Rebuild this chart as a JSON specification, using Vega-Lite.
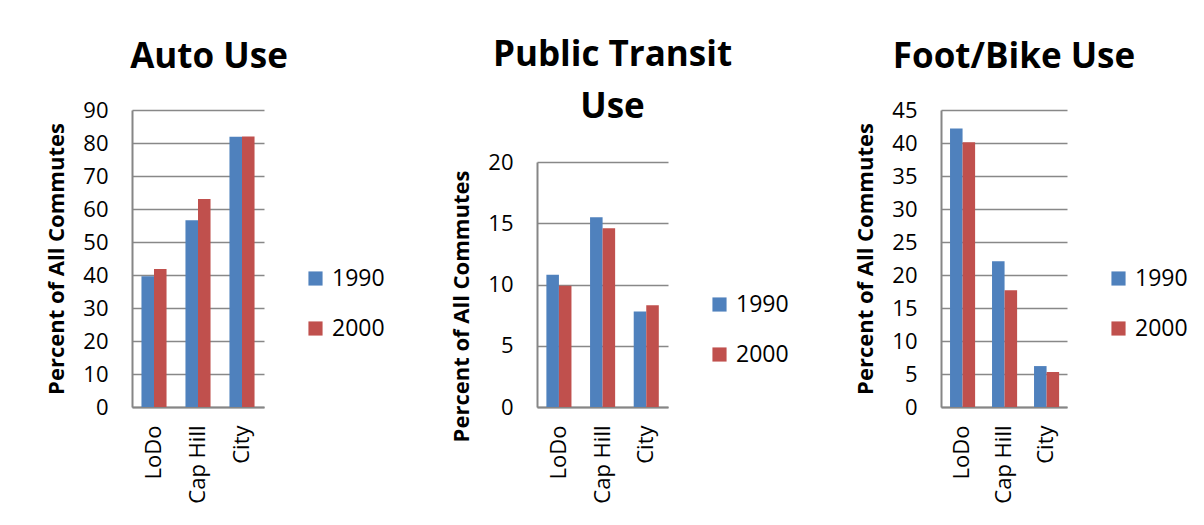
{
  "$schema": "https://vega.github.io/schema/vega-lite/v6.json",
  "background": "white",
  "padding": {"left": 45, "top": 38, "right": 0, "bottom": 0},
  "spacing": 273,
  "bounds": "flush",
  "config": {
    "font": "Open Sans",
    "view": {"stroke": null},
    "axis": {
      "labelFont": "Open Sans", "labelColor": "black", "labelFontSize": 22,
      "titleFont": "Open Sans", "titleFontWeight": "bold", "titleFontSize": 22, "titleColor": "black",
      "domainColor": "#868686", "domainWidth": 2, "gridColor": "#888888", "gridWidth": 1.6, "ticks": false
    },
    "title": {"fontSize": 35, "fontWeight": "bold", "font": "Open Sans", "color": "black", "offset": 24, "dx": 11},
    "legend": {
      "labelFont": "Open Sans", "labelFontSize": 23, "labelColor": "black", "symbolType": "square",
      "symbolSize": 200, "symbolStrokeWidth": 0, "symbolOpacity": 1, "labelOffset": 5, "rowPadding": 26, "padding": 0
    }
  },
  "datasets": {
    "d": [
      {"mode": "Auto", "area": "LoDo", "year": "1990", "pct": 39.6},
      {"mode": "Auto", "area": "LoDo", "year": "2000", "pct": 41.8},
      {"mode": "Auto", "area": "Cap Hill", "year": "1990", "pct": 56.6},
      {"mode": "Auto", "area": "Cap Hill", "year": "2000", "pct": 63.0},
      {"mode": "Auto", "area": "City", "year": "1990", "pct": 81.9},
      {"mode": "Auto", "area": "City", "year": "2000", "pct": 82.0},
      {"mode": "Transit", "area": "LoDo", "year": "1990", "pct": 10.8},
      {"mode": "Transit", "area": "LoDo", "year": "2000", "pct": 9.9},
      {"mode": "Transit", "area": "Cap Hill", "year": "1990", "pct": 15.5},
      {"mode": "Transit", "area": "Cap Hill", "year": "2000", "pct": 14.6},
      {"mode": "Transit", "area": "City", "year": "1990", "pct": 7.8},
      {"mode": "Transit", "area": "City", "year": "2000", "pct": 8.3},
      {"mode": "Foot", "area": "LoDo", "year": "1990", "pct": 42.2},
      {"mode": "Foot", "area": "LoDo", "year": "2000", "pct": 40.1},
      {"mode": "Foot", "area": "Cap Hill", "year": "1990", "pct": 22.1},
      {"mode": "Foot", "area": "Cap Hill", "year": "2000", "pct": 17.7},
      {"mode": "Foot", "area": "City", "year": "1990", "pct": 6.2},
      {"mode": "Foot", "area": "City", "year": "2000", "pct": 5.3}
    ]
  },
  "resolve": {"legend": {"color": "independent"}},
  "hconcat": [
    {
      "width": 132, "height": 297,
      "title": {"text": "Auto Use"},
      "data": {"name": "d"},
      "transform": [{"filter": "datum.mode === 'Auto'"}],
      "mark": {"type": "bar"},
      "encoding": {
        "x": {"field": "area", "type": "nominal", "sort": ["LoDo", "Cap Hill", "City"],
              "scale": {"paddingInner": 0.43, "paddingOuter": 0.215},
              "axis": {"title": null, "labelAngle": -90, "labelPadding": 18, "grid": false}},
        "xOffset": {"field": "year", "type": "nominal"},
        "y": {"field": "pct", "type": "quantitative", "scale": {"domain": [0, 90]},
              "axis": {"values": [0, 10, 20, 30, 40, 50, 60, 70, 80, 90], "title": "Percent of All Commutes", "labelPadding": 24, "titlePadding": 14}},
        "color": {"field": "year", "type": "nominal", "scale": {"range": ["#4F81BD", "#C0504D"]},
                  "legend": {"title": null, "orient": "none", "legendX": 172, "legendY": 157}}
      }
    },
    {
      "width": 131, "height": 297,
      "title": {"text": ["Public Transit", "Use"], "lineHeight": 52, "offset": -15, "dx": 10},
      "data": {"name": "d"},
      "transform": [{"filter": "datum.mode === 'Transit'"}],
      "mark": {"type": "bar"},
      "encoding": {
        "x": {"field": "area", "type": "nominal", "sort": ["LoDo", "Cap Hill", "City"],
              "scale": {"paddingInner": 0.43, "paddingOuter": 0.215},
              "axis": {"title": null, "labelAngle": -90, "labelPadding": 18, "grid": false}},
        "xOffset": {"field": "year", "type": "nominal"},
        "y": {"field": "pct", "type": "quantitative", "scale": {"domain": [0, 20], "range": [297, 52]},
              "axis": {"values": [0, 5, 10, 15, 20], "title": "Percent of All Commutes", "labelPadding": 24, "titlePadding": 14, "titleY": 196}},
        "color": {"field": "year", "type": "nominal", "scale": {"range": ["#4F81BD", "#C0504D"]},
                  "legend": {"title": null, "orient": "none", "legendX": 171, "legendY": 183}}
      }
    },
    {
      "width": 126, "height": 297,
      "title": {"text": "Foot/Bike Use", "dx": 10},
      "data": {"name": "d"},
      "transform": [{"filter": "datum.mode === 'Foot'"}],
      "mark": {"type": "bar"},
      "encoding": {
        "x": {"field": "area", "type": "nominal", "sort": ["LoDo", "Cap Hill", "City"],
              "scale": {"paddingInner": 0.43, "paddingOuter": 0.215},
              "axis": {"title": null, "labelAngle": -90, "labelPadding": 18, "grid": false}},
        "xOffset": {"field": "year", "type": "nominal"},
        "y": {"field": "pct", "type": "quantitative", "scale": {"domain": [0, 45]},
              "axis": {"values": [0, 5, 10, 15, 20, 25, 30, 35, 40, 45], "title": "Percent of All Commutes", "labelPadding": 24, "titlePadding": 14}},
        "color": {"field": "year", "type": "nominal", "scale": {"range": ["#4F81BD", "#C0504D"]},
                  "legend": {"title": null, "orient": "none", "legendX": 166, "legendY": 157}}
      }
    }
  ]
}
